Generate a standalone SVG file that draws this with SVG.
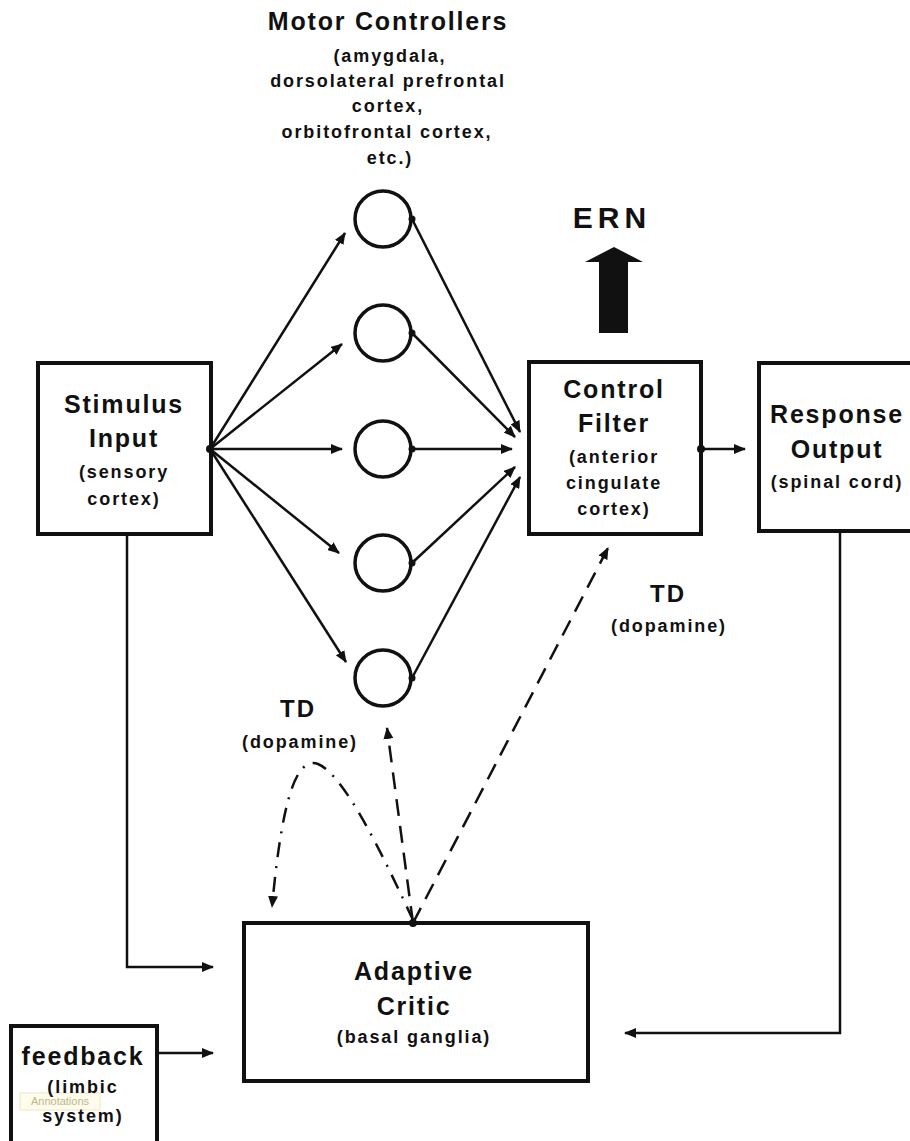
<svg xmlns="http://www.w3.org/2000/svg" width="910" height="1141" viewBox="0 0 910 1141">
<style>
text{font-family:"Liberation Sans",Arial,Helvetica,sans-serif;font-weight:bold;fill:#111;text-anchor:middle}
.big{font-size:25px;letter-spacing:1.8px}
.sm{font-size:18px;letter-spacing:1.9px}
.td{font-size:24px;letter-spacing:2px}
.box{fill:#fff;stroke:#111;stroke-width:4}
.node{fill:none;stroke:#111;stroke-width:3.5}
.ln{fill:none;stroke:#111;stroke-width:2.5}
.dash{fill:none;stroke:#111;stroke-width:2.5;stroke-dasharray:17 10}
.dashdot{fill:none;stroke:#111;stroke-width:2.5;stroke-dasharray:15 9 2 9}
.dot{fill:#111}
</style>
<defs>
<marker id="ah" markerUnits="userSpaceOnUse" markerWidth="12" markerHeight="10" refX="11" refY="5" orient="auto">
<path d="M0,0 L12,5 L0,10 z" fill="#111"/>
</marker>
</defs>
<rect width="910" height="1141" fill="#fff"/>

<g id="motor-controllers-label">
<text class="big" x="388" y="30">Motor Controllers</text>
<text class="sm" x="390" y="62">(amygdala,</text>
<text class="sm" x="388" y="87">dorsolateral prefrontal</text>
<text class="sm" x="388" y="112">cortex,</text>
<text class="sm" x="387" y="138">orbitofrontal cortex,</text>
<text class="sm" x="390" y="164">etc.)</text>
</g>

<g id="mc1"><circle class="node" cx="383" cy="219" r="28"/></g>
<g id="mc2"><circle class="node" cx="383" cy="333" r="28"/></g>
<g id="mc3"><circle class="node" cx="383" cy="449" r="28"/></g>
<g id="mc4"><circle class="node" cx="383" cy="563" r="28"/></g>
<g id="mc5"><circle class="node" cx="383" cy="678" r="28"/></g>

<g id="ern">
<text x="612" y="228" style="font-size:30px;letter-spacing:5px">ERN</text>
<polygon points="614,247 643,262 628,262 628,333 599,333 599,262 585,262" fill="#111"/>
</g>

<g id="stimulus">
<rect class="box" x="38" y="363" width="173" height="171"/>
<text class="big" x="124" y="413">Stimulus</text>
<text class="big" x="124" y="447">Input</text>
<text class="sm" x="124" y="478">(sensory</text>
<text class="sm" x="124" y="505">cortex)</text>
</g>

<g id="control-filter">
<rect class="box" x="529" y="362" width="172" height="172"/>
<text class="big" x="614" y="398">Control</text>
<text class="big" x="614" y="432">Filter</text>
<text class="sm" x="614" y="463">(anterior</text>
<text class="sm" x="614" y="489">cingulate</text>
<text class="sm" x="614" y="515">cortex)</text>
</g>

<g id="response-output">
<rect class="box" x="759" y="363" width="160" height="168"/>
<text class="big" x="837" y="423">Response</text>
<text class="big" x="837" y="458">Output</text>
<text class="sm" x="837" y="488">(spinal cord)</text>
</g>

<g id="adaptive-critic">
<rect class="box" x="244" y="923" width="344" height="158"/>
<text class="big" x="414" y="980">Adaptive</text>
<text class="big" x="414" y="1015">Critic</text>
<text class="sm" x="414" y="1043">(basal ganglia)</text>
</g>

<g id="feedback">
<rect class="box" x="11" y="1026" width="146" height="130"/>
<g id="annotations-tooltip">
<rect x="20" y="1093" width="80" height="17" fill="#fffbe6" fill-opacity="0.8" stroke="#eee8c8" stroke-width="1"/>
<text x="60" y="1105" style="font-size:11px;font-weight:normal;fill:#bdb592;letter-spacing:0">Annotations</text>
</g>
<text class="big" x="83" y="1065">feedback</text>
<text class="sm" x="83" y="1093">(limbic</text>
<text class="sm" x="83" y="1122">system)</text>
</g>

<g id="td-labels">
<text class="td" x="298" y="717">TD</text>
<text class="sm" x="300" y="748">(dopamine)</text>
<text class="td" x="668" y="602">TD</text>
<text class="sm" x="669" y="632">(dopamine)</text>
</g>

<g id="connectors">
<line class="ln" x1="210" y1="449" x2="345" y2="233" marker-end="url(#ah)"/>
<line class="ln" x1="210" y1="449" x2="342" y2="344" marker-end="url(#ah)"/>
<line class="ln" x1="210" y1="449" x2="342" y2="449" marker-end="url(#ah)"/>
<line class="ln" x1="210" y1="449" x2="339" y2="553" marker-end="url(#ah)"/>
<line class="ln" x1="210" y1="449" x2="346" y2="662" marker-end="url(#ah)"/>
<line class="ln" x1="412" y1="219" x2="520" y2="432" marker-end="url(#ah)"/>
<line class="ln" x1="412" y1="333" x2="515" y2="437" marker-end="url(#ah)"/>
<line class="ln" x1="412" y1="449" x2="512" y2="449" marker-end="url(#ah)"/>
<line class="ln" x1="412" y1="563" x2="515" y2="467" marker-end="url(#ah)"/>
<line class="ln" x1="412" y1="678" x2="520" y2="477" marker-end="url(#ah)"/>
<line class="ln" x1="701" y1="449" x2="745" y2="449" marker-end="url(#ah)"/>
<polyline class="ln" points="127,536 127,967 213,967" marker-end="url(#ah)"/>
<line class="ln" x1="157" y1="1053" x2="213" y2="1053" marker-end="url(#ah)"/>
<polyline class="ln" points="840,532 840,1033 625,1033" marker-end="url(#ah)"/>
<line class="dash" x1="413" y1="923" x2="608" y2="548" marker-end="url(#ah)"/>
<line class="dash" x1="413" y1="923" x2="387" y2="728" marker-end="url(#ah)"/>
<path class="dashdot" d="M413,920 C385,860 345,775 318,764 C296,756 282,800 272,907" marker-end="url(#ah)"/>
<circle class="dot" cx="210" cy="449" r="4"/>
<circle class="dot" cx="412" cy="219" r="3.5"/>
<circle class="dot" cx="412" cy="333" r="3.5"/>
<circle class="dot" cx="412" cy="449" r="3.5"/>
<circle class="dot" cx="412" cy="563" r="3.5"/>
<circle class="dot" cx="412" cy="678" r="3.5"/>
<circle class="dot" cx="701" cy="449" r="4"/>
<circle class="dot" cx="413" cy="923" r="4"/>
</g>
</svg>
